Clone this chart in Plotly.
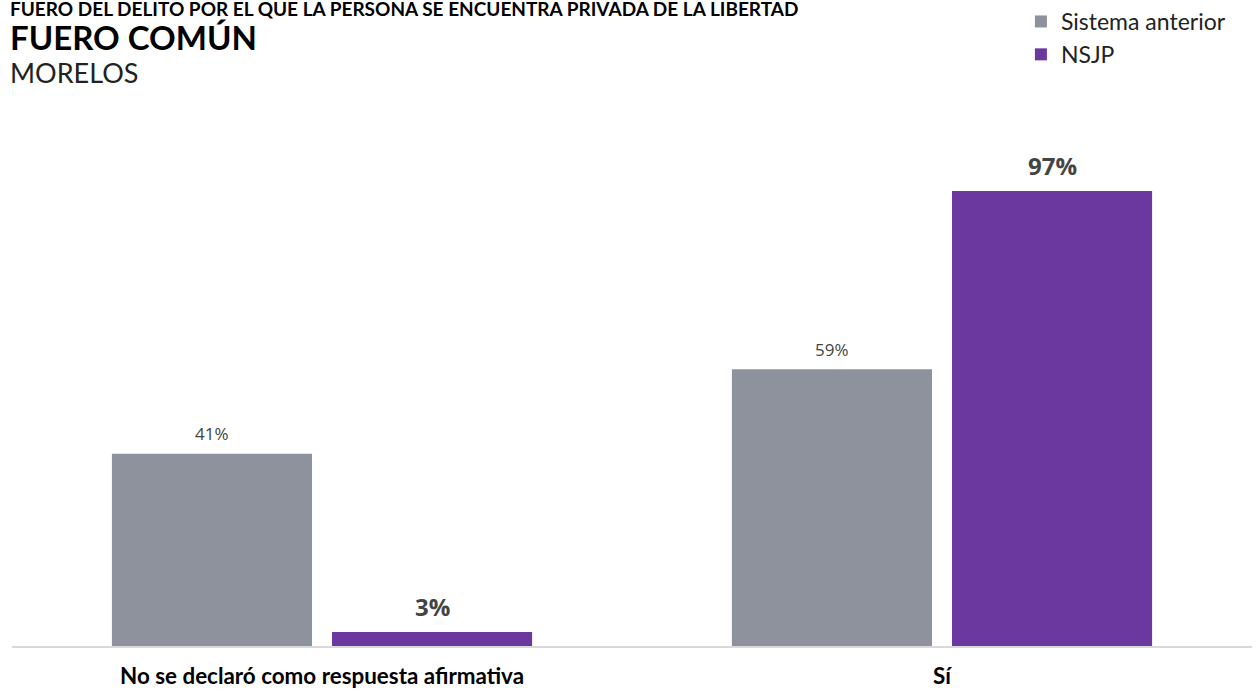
import plotly.graph_objects as go

# Datos
categorias = ['No se declaró como respuesta afirmativa', 'Sí']
sistema_anterior = [41, 59]
nsjp = [3, 97]
series = ['Sistema anterior', 'NSJP']
colores = ['#8E929D', '#6A389E']

fig = go.Figure()
fig.add_trace(go.Bar(x=categorias, y=sistema_anterior, name=series[0],
                     marker=dict(color=colores[0], line=dict(width=0))))
fig.add_trace(go.Bar(x=categorias, y=nsjp, name=series[1],
                     marker=dict(color=colores[1], line=dict(width=0))))

# Etiquetas de valor
anotaciones = []
for cat, v in zip(categorias, sistema_anterior):
    anotaciones.append(dict(x=cat, y=v, xref='x', yref='y', text=f'{v}%',
                            showarrow=False, xshift=-110, yshift=20,
                            font=dict(family='Open Sans', size=17, color='#444444')))
for cat, v in zip(categorias, nsjp):
    anotaciones.append(dict(x=cat, y=v, xref='x', yref='y', text=f'<b>{v}%</b>',
                            showarrow=False, xshift=110, yshift=25,
                            font=dict(family='Open Sans', size=24, color='#444444')))

# Títulos
anotaciones += [
    dict(text='<b>FUERO DEL DELITO POR EL QUE LA PERSONA SE ENCUENTRA PRIVADA DE LA LIBERTAD</b>',
         xref='paper', yref='paper', x=-0.0032, y=1.236, xanchor='left', yanchor='middle',
         showarrow=False, font=dict(family='Lato', size=19, color='#000000')),
    dict(text='<b>FUERO COMÚN</b>',
         xref='paper', yref='paper', x=-0.0032, y=1.180, xanchor='left', yanchor='middle',
         showarrow=False, font=dict(family='Lato', size=33, color='#000000')),
    dict(text='MORELOS',
         xref='paper', yref='paper', x=-0.0032, y=1.112, xanchor='left', yanchor='middle',
         showarrow=False, font=dict(family='Lato', size=27, color='#222222')),
]

fig.update_layout(
    width=1258, height=690,
    margin=dict(l=12, r=6, t=130, b=44, autoexpand=False),
    plot_bgcolor='white', paper_bgcolor='white',
    barmode='group', bargap=0.29, bargroupgap=0.0909,
    showlegend=True,
    legend=dict(x=0.983, xanchor='right', yref='container', y=1.0, yanchor='top',
                font=dict(family='Lato', size=23, color='#222222'),
                itemwidth=30, itemsizing='constant', tracegroupgap=0,
                bgcolor='rgba(0,0,0,0)'),
    annotations=anotaciones,
    xaxis=dict(showline=True, linecolor='#D9D9D9', linewidth=2, showgrid=False,
               ticks='', ticklabelstandoff=9, automargin=False,
               tickfont=dict(family='Lato', size=22.4, color='#000000', weight='bold')),
    yaxis=dict(range=[0, 110], visible=False, showgrid=False, zeroline=False,
               automargin=False),
)

fig.write_html('out.html', config={'displayModeBar': False},
               post_script="document.body.style.margin='0';")
